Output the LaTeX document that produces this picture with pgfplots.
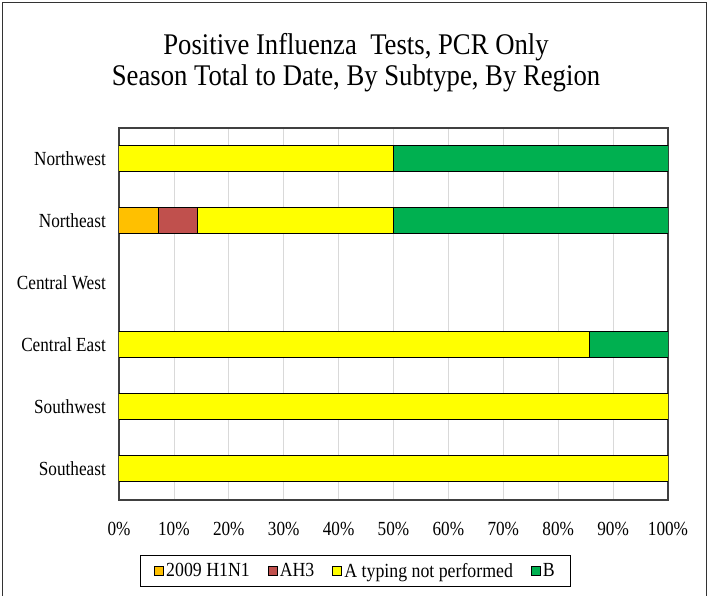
\documentclass[border=0pt]{standalone}
\usepackage{fontspec}
\setmainfont{Liberation Serif}
\usepackage{graphicx}
\usepackage{pgfplots}
\pgfplotsset{compat=1.18}
\definecolor{cH1}{HTML}{FFC000}
\definecolor{cH3}{HTML}{C0504D}
\definecolor{cA}{HTML}{FFFF00}
\definecolor{cB}{HTML}{00B050}
\newcommand\nar[1]{\scalebox{0.86}[1]{#1}}
\newcommand\narl[1]{\scalebox{0.89}[1]{#1}}
\begin{document}
\begin{tikzpicture}[x=1pt,y=1pt]
\useasboundingbox (0,0) rectangle (713,596);
\draw[line width=1.5pt, black!80] (2.5,-10) rectangle (706.5,593.5);
\node[anchor=base, inner sep=0pt, font=\fontsize{30}{31}\selectfont] at (356,541) {\narl{Positive Influenza~ Tests, PCR Only}};
\node[anchor=base, inner sep=0pt, font=\fontsize{30}{31}\selectfont] at (356,510.5) {\narl{Season Total to Date, By Subtype, By Region}};
\begin{axis}[
  at={(119pt,96pt)}, anchor=south west,
  scale only axis, width=549pt, height=372pt,
  xbar stacked, bar width=26pt,
  xmin=0, xmax=100, ymin=0.5, ymax=6.5,
  xtick={0,10,...,100},
  xticklabel={\nar{\pgfmathprintnumber{\tick}\%}},
  ytick={1,...,6},
  yticklabels={\nar{Southeast},\nar{Southwest},\nar{Central East},\nar{Central West},\nar{Northeast},\nar{Northwest}},
  major tick length=0pt,
  /pgf/number format/assume math mode=true,
  tick label style={font=\fontsize{20}{22}\selectfont, inner sep=0pt},
  xticklabel style={anchor=north, yshift=-22pt},
  yticklabel style={anchor=east, xshift=-13pt},
  xmajorgrids, grid style={draw=black!15, line width=0.8pt},
  axis line style={draw=black!75, line width=1.2pt},
  legend columns=4,
  legend cell align=left,
  legend style={at={(0.4308,-0.1909)}, anchor=center, draw=black, line width=1pt,
    font=\fontsize{20}{22}\selectfont,
    /tikz/every even column/.append style={column sep=16pt},
    inner xsep=14pt, inner ysep=6pt},
  legend image code/.code={\draw[#1, line width=1pt] (0pt,-4.5pt) rectangle (9pt,4.5pt);},
]
\addplot[fill=cH1, draw=black, line width=1pt] coordinates {(0,1) (0,2) (0,3) (0,4) (7.14,5) (0,6)};
\addplot[fill=cH3, draw=black, line width=1pt] coordinates {(0,1) (0,2) (0,3) (0,4) (7.14,5) (0,6)};
\addplot[fill=cA, draw=black, line width=1pt] coordinates {(100,1) (100,2) (85.71,3) (0,4) (35.72,5) (50,6)};
\addplot[fill=cB, draw=black, line width=1pt] coordinates {(0,1) (0,2) (14.29,3) (0,4) (50,5) (50,6)};
\legend{\narl{2009 H1N1}, \narl{AH3}, \narl{A typing not performed}, \narl{B}}
\end{axis}
\end{tikzpicture}
\end{document}
